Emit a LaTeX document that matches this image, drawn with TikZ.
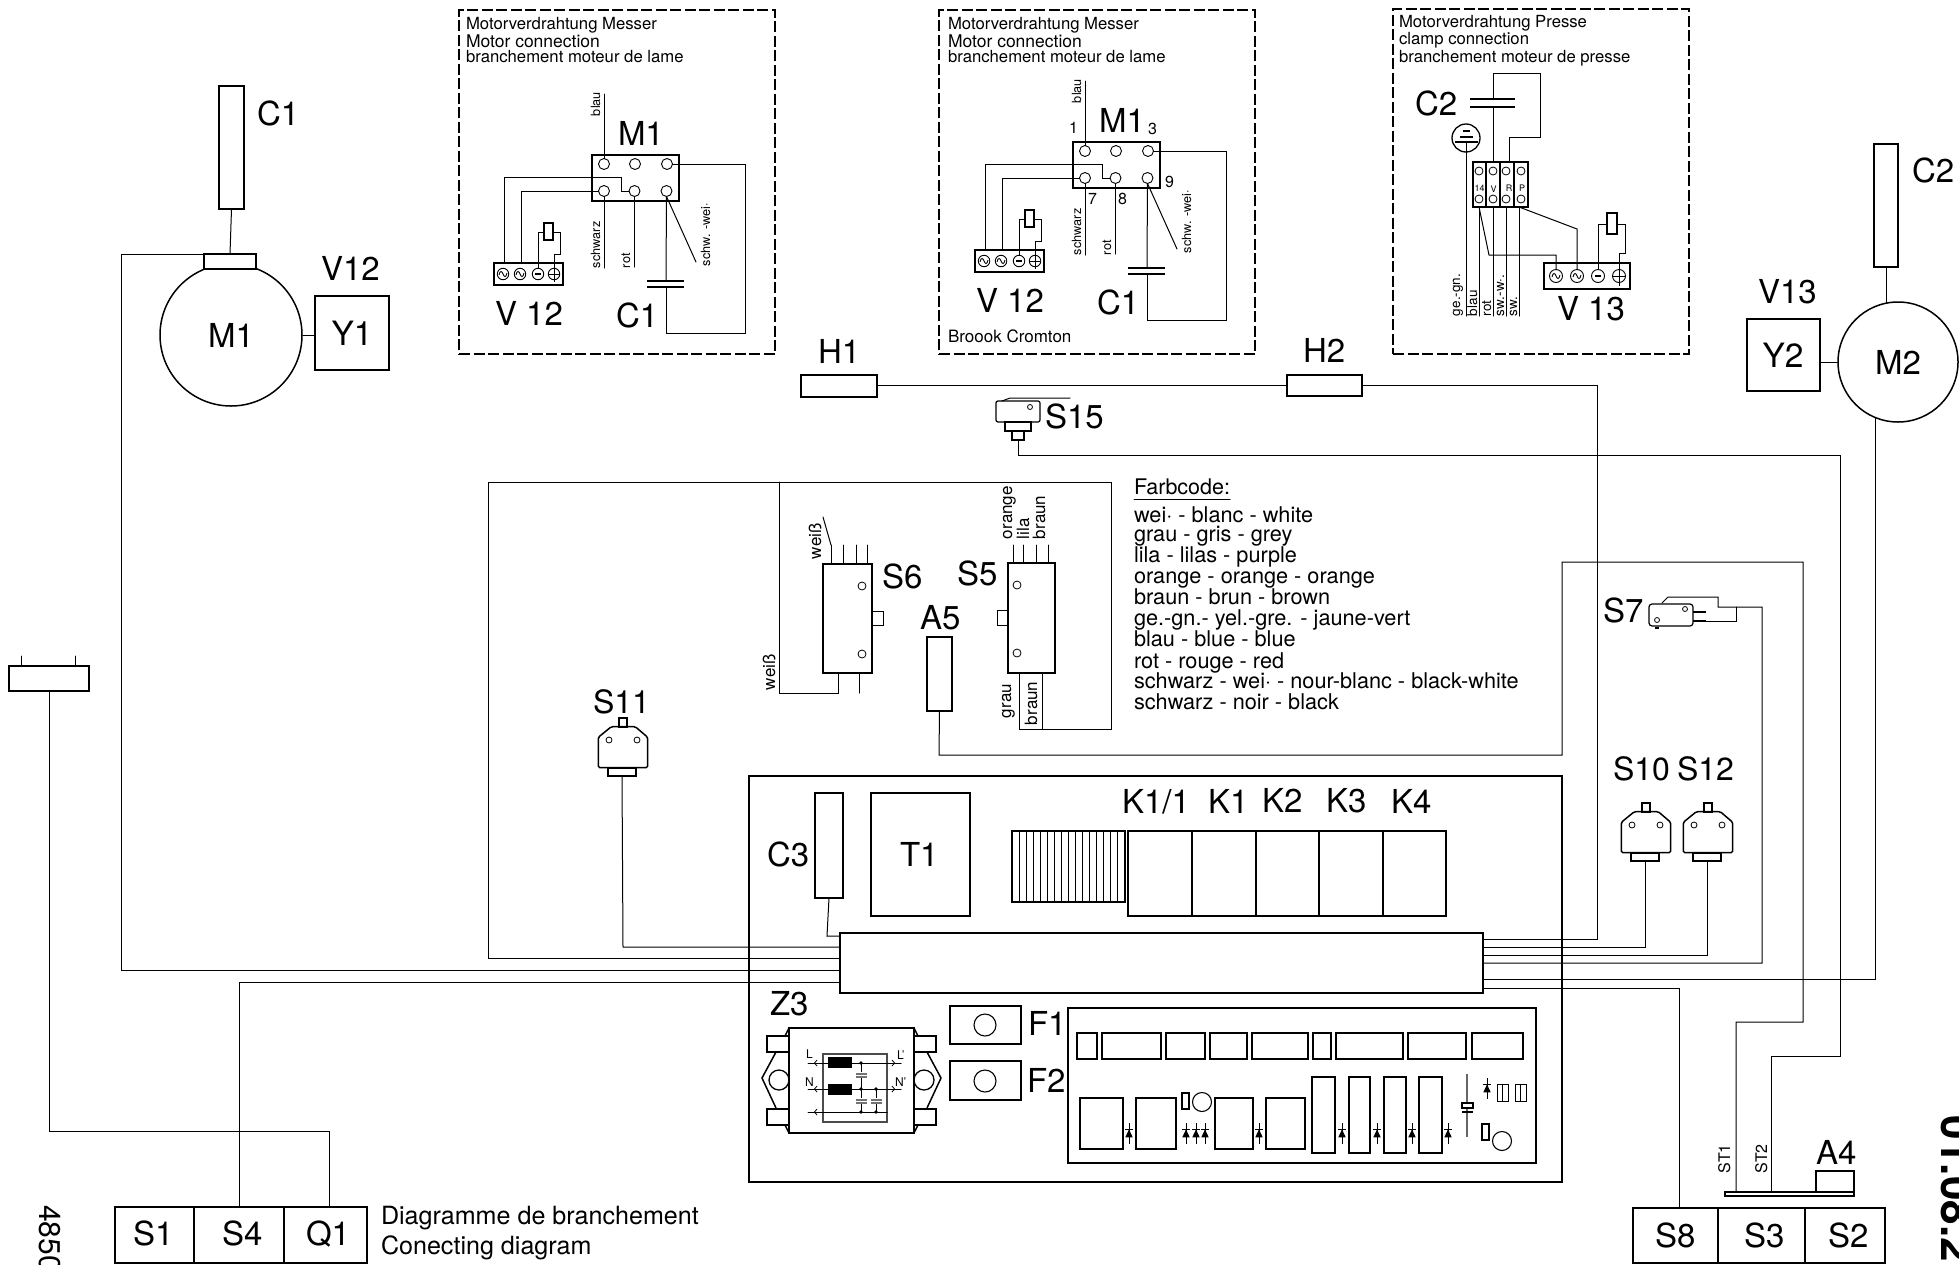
\documentclass[tikz,border=0pt]{standalone}
\usepackage{fontspec}
\setmainfont{TeX Gyre Heros}
\usetikzlibrary{calc}
\newcommand{\fsz}[1]{\fontsize{#1}{#1}\selectfont}
\newcommand{\rbox}[6][boxs]{%
  \pgfmathsetmacro\rbW{#5-#3}\pgfmathsetmacro\rbH{#6-#4}%
  \pgfmathsetmacro\rbX{(#3+#5)/2}\pgfmathsetmacro\rbY{(#4+#6)/2}%
  \node[#1,minimum width=\rbW pt,minimum height=\rbH pt] (#2) at (\rbX,\rbY) {};}
\newcommand{\diodeup}[3]{% x, ytop, ybottom
  \draw[thinw] (#1,#2) -- (#1,#3);
  \pgfmathsetmacro\dA{#2+(#3-#2)*0.3}\pgfmathsetmacro\dB{#2+(#3-#2)*0.68}%
  \fill (#1,\dA) -- (#1-3.7,\dB) -- (#1+3.7,\dB) -- cycle;
  \draw[thinw] (#1-3.7,\dA) -- (#1+3.7,\dA);}
% limit switch in the coordinates of S10
\newcommand{\limitsw}[3]{%
  \begin{scope}[shift={(#2,#3)}]
    \rbox[boxt]{#1plunger}{1642}{803}{1650}{812}
    \draw[bline,rounded corners=1.5pt] (1634.3,811.7) -- (1658.3,811.7) -- (1670.7,822.3) -- (1670.7,852.7) -- (1621.3,852.7) -- (1621.3,822.3) -- cycle;
    \rbox[boxt]{#1bar}{1631}{853}{1659}{861}
    \node[smallc,minimum size=6pt] (#1a) at (1632,825) {};
    \node[smallc,minimum size=6pt] (#1b) at (1660,825) {};
  \end{scope}}
% motor wiring group in the coordinates of the first frame
\newcommand{\motorwire}[1]{%
  \rbox{#1box}{592}{155}{679}{201}
  \node[term] (#1t1) at (604,164) {};
  \node[term] (#1t2) at (635,164) {};
  \node[term] (#1t3) at (667,164) {};
  \node[term] (#1t4) at (604,191) {};
  \node[term] (#1t5) at (634.5,191) {};
  \node[term] (#1t6) at (666.5,191) {};
  \node[big] (#1lM) at (618,145) {M1};
  \coordinate (#1blauend) at (604,94);
  \draw[wire] (#1t1) -- (#1blauend);
  \node[rlab] (#1lblau) at (600,116) {blau};
  \draw[wire] (#1t5) -- (621,191) -- (621,177) -- (504,177) -- (504,263);
  \draw[wire] (#1t4) -- (521,191) -- (521,263);
  \rbox{#1v}{494}{263}{563}{285}
  \node[term,minimum size=11.5pt] (#1s1) at (503,274) {};
  \node[term,minimum size=11.5pt] (#1s2) at (520,274) {};
  \node[term,minimum size=11.5pt] (#1s3) at (538,274) {};
  \node[term,minimum size=11.5pt] (#1s4) at (554,274) {};
  \pic at (#1s1) {acsym};
  \pic at (#1s2) {acsym};
  \draw[bline] (535,274) -- (541,274);
  \draw[thinw] (549,274) -- (559,274) (554,269) -- (554,282);
  \rbox{#1rel}{544}{223}{553}{240}
  \draw[wire] (#1s3) -- (538,232) -- (#1rel.west |- 0,232);
  \draw[wire] (#1rel.east |- 0,232) -- (560,232) -- (560,254) -- (554,254) -- (#1s4);
  \coordinate (#1sw) at (604,268);
  \coordinate (#1rt) at (634.5,267);
  \draw[wire] (#1t4) -- (#1sw);
  \draw[wire] (#1t5) -- (#1rt);
  \node[rlab] (#1lsw) at (600,268) {schwarz};
  \node[rlab] (#1lrt) at (630,268) {rot};
  \coordinate (#1capa) at (666,281);
  \coordinate (#1capb) at (666,287);
  \draw[wire] (#1t6) -- (#1capa);
  \draw[bline] (647,281) -- (684,281) (647,287) -- (684,287);
  \draw[wire] (#1capb) -- (666,333) -- (745,333) -- (745,164) -- (#1t3);
  \coordinate (#1diag) at (696,262);
  \draw[wire] (#1t6.south) -- (#1diag);
  \node[rlab] (#1lsww) at (710,266) {schw. -wei·};
  \node[big] (#1lC) at (616,327) {C1};
  \node[big] (#1lV) at (495,325) {V 12};}
\tikzset{
  wire/.style={line width=1pt,line cap=round,line join=miter},
  thinw/.style={line width=0.8pt},
  bline/.style={line width=1.5pt},
  boxs/.style={draw,rectangle,line width=1.5pt,inner sep=0pt,outer sep=0pt},
  boxt/.style={draw,rectangle,line width=1.2pt,inner sep=0pt,outer sep=0pt},
  boxf/.style={boxs,fill=white},
  frameb/.style={draw,rectangle,line width=1.5pt,inner sep=0pt,outer sep=0pt,dash pattern=on 11pt off 3.5pt},
  term/.style={draw,circle,line width=0.9pt,inner sep=0pt,outer sep=0pt,minimum size=11pt},
  smallc/.style={draw,circle,line width=0.8pt,inner sep=0pt,outer sep=0pt},
  lab/.style={inner sep=0pt,outer sep=0pt,anchor=base west},
  big/.style={lab,font=\fsz{33}},
  head/.style={lab,font=\fsz{16.7}},
  rlab/.style={lab,rotate=90,font=\fsz{12.7}},
  rlabb/.style={lab,rotate=90,font=\fsz{17}},
  leg/.style={lab,font=\fsz{21.7}},
  acsym/.pic={\draw[line width=0.9pt] (-4,1) .. controls (-3,-4) and (-1,-3) .. (0,0) .. controls (1,3) and (3,4) .. (4,-1);},
}
\begin{document}
\begin{tikzpicture}[x=1pt,y=-1pt]
\useasboundingbox (0,0) rectangle (1959,1264);
% ---- frames and headers
\rbox[frameb]{frameA}{459}{10}{775}{354}
\rbox[frameb]{frameB}{939}{10}{1255}{354}
\rbox[frameb]{frameC}{1393}{9}{1689}{354}
\node[head] (hA1) at (466,29) {Motorverdrahtung Messer};
\node[head,font=\fsz{17.5}] (hA2) at (466,47) {Motor connection};
\node[head] (hA3) at (466,62) {branchement moteur de lame};
\node[head] (hB1) at (948,29) {Motorverdrahtung Messer};
\node[head,font=\fsz{17.5}] (hB2) at (948,47) {Motor connection};
\node[head] (hB3) at (948,62) {branchement moteur de lame};
\node[head] (hC1) at (1399,27) {Motorverdrahtung Presse};
\node[head] (hC2) at (1399,44) {clamp connection};
\node[head] (hC3) at (1399,62) {branchement moteur de presse};
\motorwire{a}
\begin{scope}[shift={(481,-13)}]
\motorwire{b}
\end{scope}
\node[lab,font=\fsz{16}] (n1) at (1069,133) {1};
\node[lab,font=\fsz{16}] (n3) at (1148,134) {3};
\node[lab,font=\fsz{16}] (n7) at (1088,204) {7};
\node[lab,font=\fsz{16}] (n8) at (1118,204) {8};
\node[lab,font=\fsz{16}] (n9) at (1165,187) {9};
\node[lab,font=\fsz{17}] (broook) at (948,342) {Broook Cromton};
% ---- clamp motor wiring
\node[big] (lC2top) at (1415,115) {C2};
\coordinate (c2a) at (1493,99);
\coordinate (c2b) at (1493,107);
\draw[bline] (1470,99) -- (1515,99) (1470,107) -- (1515,107);
\rbox{blk}{1473}{162}{1528}{207}
\draw[boxt] (1486,162) -- (1486,207) (1500,162) -- (1500,207) (1514,162) -- (1514,207);
\foreach \px [count=\i] in {1479,1493,1506,1521}{
  \node[smallc,minimum size=8pt] (bt\i) at (\px,171) {};
  \node[smallc,minimum size=8pt] (bb\i) at (\px,199) {};
}
\node[inner sep=0pt,font=\fsz{9}] (l14) at (1479.5,188) {14};
\node[inner sep=0pt,font=\fsz{9}] (lV) at (1493.5,189) {V};
\node[inner sep=0pt,font=\fsz{9}] (lR) at (1509,188) {R};
\node[inner sep=0pt,font=\fsz{9}] (lP) at (1522,188) {P};
\draw[wire] (c2a) -- (1493,73) -- (1540,73) -- (1540,137) -- (1509,137) -- (blk.north -| 1509,0);
\draw[wire] (c2b) -- (blk.north -| 1493,0);
\node[draw,circle,line width=1.3pt,minimum size=28pt,inner sep=0pt] (gnd) at (1466,138) {};
\draw[bline] (1463,131) -- (1470,131) (1460,137) -- (1473,137) (1455,142) -- (1478,142);
\coordinate (ge) at (1466,316);
\draw[wire] (1466,142) -- (ge);
\coordinate (ebl) at (1479,316);
\coordinate (ert) at (1493,316);
\coordinate (esw) at (1506,316);
\coordinate (esb) at (1519,316);
\draw[wire] (blk.south -| 1479,0) -- (ebl);
\draw[wire] (blk.south -| 1493,0) -- (ert);
\draw[wire] (blk.south -| 1506,0) -- (esw);
\draw[wire] (blk.south -| 1519,0) -- (esb);
\node[rlab,font=\fsz{13.5}] (lge) at (1460,316) {ge.-gn.};
\node[rlab,font=\fsz{13.5}] (lbl) at (1477,316) {blau};
\node[rlab,font=\fsz{13.5}] (lrt) at (1491,316) {rot};
\node[rlab,font=\fsz{13.5}] (lsww) at (1504,316) {sw.-w·.};
\node[rlab,font=\fsz{13.5}] (lsw) at (1517,316) {sw.};
\rbox{vc}{1544}{263}{1630}{289}
\node[term,minimum size=13pt] (vs1) at (1556,276) {};
\node[term,minimum size=13pt] (vs2) at (1577,276) {};
\node[term,minimum size=13pt] (vs3) at (1598,276) {};
\node[term,minimum size=13pt] (vs4) at (1619,276) {};
\pic at (vs1) {acsym};
\pic at (vs2) {acsym};
\draw[bline] (1595,276) -- (1601,276);
\draw[thinw] (1613,276) -- (1625,276) (1619,270) -- (1619,286);
\draw[wire] (blk.south -| 1479,0) -- (1489,255) -- (1556,255) -- (vs1);
\draw[wire] (blk.south -| 1519,0) -- (1577,229) -- (vs2);
\rbox{relc}{1607}{213}{1617}{234}
\draw[wire] (vs3) -- (1598,224) -- (relc.west |- 0,224);
\draw[wire] (relc.east |- 0,224) -- (1625,224) -- (1625,253) -- (1619,253) -- (vs4);
\node[big] (lV13) at (1557,320) {V 13};
% ---- left motor
\rbox{c1l}{219}{86}{244}{209}
\node[big] (lC1l) at (257,125) {C1};
\node[draw,circle,line width=1.5pt,minimum size=142pt,inner sep=0pt,font=\fsz{33}] (m1) at (231,335) {M1};
\rbox[boxf]{m1cap}{204}{254}{256}{269}
\draw[wire] (c1l.south) -- (m1cap.north);
\rbox{y1}{315}{296}{389}{370}
\node[inner sep=0pt,font=\fsz{33.5}] (ty1) at (y1) {Y1};
\draw[wire] (m1.east) -- (y1.west |- m1.east);
\node[big] (lV12l) at (321,280) {V12};
% ---- right motor
\rbox{c2r}{1874}{144}{1898}{267}
\node[big] (lC2r) at (1912,182) {C2};
\node[draw,circle,line width=1.5pt,minimum size=120pt,inner sep=0pt,font=\fsz{33}] (m2) at (1898,362) {M2};
\draw[wire] (c2r.south) -- (1886,303);
\rbox{y2}{1747}{319}{1820}{391}
\node[inner sep=0pt,font=\fsz{33.5}] (ty2) at (1783,355) {Y2};
\draw[wire] (y2.east |- m2.west) -- (m2.west);
\node[big] (lV13r) at (1758,303) {V13};
% ---- thermals H1, H2, S15
\rbox{h1}{801}{375}{877}{397}
\rbox{h2}{1287}{375}{1362}{396}
\node[big] (lH1) at (818,363) {H1};
\node[big] (lH2) at (1303,362) {H2};
\draw[wire] (h1.east |- 0,385) -- (h2.west |- 0,385);
\rbox[boxt,rounded corners=2pt]{s15}{996}{401}{1040}{422}
\draw[wire] (1002,401) -- (1010,398) -- (1070,398);
\node[smallc,minimum size=5pt] (s15c) at (1030,407) {};
\rbox[boxt]{s15a}{1005}{422}{1031}{431}
\rbox[boxt]{s15b}{1012}{431}{1024}{440}
\node[big] (lS15) at (1045,428) {S15};
% ---- panel
\rbox{panel}{749}{776}{1562}{1182}
\rbox{bus}{840}{933}{1483}{993}
\rbox{c3}{815}{793}{843}{898}
\rbox{t1}{871}{793}{970}{916}
\node[big] (lC3) at (767,866) {C3};
\node[big] (lT1) at (900,866) {T1};
\rbox{hatch}{1012}{831}{1125}{902}
\foreach \k in {1,...,15}{\draw[wire] (1012+7*\k,831) -- (1012+7*\k,902);}
\rbox{k11}{1128}{831}{1192}{916}
\rbox{k1}{1192}{831}{1256}{916}
\rbox{k2}{1256}{831}{1319}{916}
\rbox{k3}{1319}{831}{1383}{916}
\rbox{k4}{1383}{831}{1446}{916}
\node[big] (lk11) at (1122,813) {K1/1};
\node[big] (lk1) at (1208,813) {K1};
\node[big] (lk2) at (1262,812) {K2};
\node[big] (lk3) at (1326,812) {K3};
\node[big] (lk4) at (1391,813) {K4};
% ---- Z3
\node[big] (lZ3) at (770,1015) {Z3};
\draw[bline] (776,1052) -- (762,1078) -- (776,1108) (785,1036) -- (789,1028) (785,1125) -- (789,1133);
\draw[bline] (927,1052) -- (941,1078) -- (927,1108) (918,1036) -- (914,1028) (918,1125) -- (914,1133);
\node[draw,circle,line width=1.3pt,minimum size=20pt,inner sep=0pt] (zc1) at (779,1080) {};
\node[draw,circle,line width=1.3pt,minimum size=20pt,inner sep=0pt] (zc2) at (924,1080) {};
\rbox[boxf]{z3}{789}{1028}{914}{1133}
\rbox[boxf]{ze1}{767}{1036}{789}{1052}
\rbox[boxf]{ze2}{767}{1109}{789}{1125}
\rbox[boxf]{ze3}{914}{1036}{936}{1052}
\rbox[boxf]{ze4}{914}{1109}{936}{1125}
\rbox[boxt,draw=black!70]{zin}{823}{1054}{887}{1122}
\coordinate (zL1) at (808,1063); \coordinate (zL2) at (901,1063);
\coordinate (zN1) at (808,1089); \coordinate (zN2) at (901,1089);
\coordinate (zE1) at (808,1112);
\draw[wire] (zL1) -- (zL2);
\draw[wire] (zN1) -- (zN2);
\draw[wire] (zE1) -- (zin.east |- zE1);
\rbox[boxf,fill=black]{zi1}{829}{1058}{851}{1067}
\rbox[boxf,fill=black]{zi2}{829}{1085}{851}{1094}
\draw[wire] (861,1063) -- (861,1112) (876,1089) -- (876,1112);
\foreach \dx/\dy in {861/1063,861/1089,861/1112,876/1089,876/1112}{\fill (\dx,\dy) circle (1.8pt);}
\begin{scope}[line width=1.6pt,black!55]
\draw[fill=white,draw=none] (855,1072) rectangle (868,1078);
\draw (856,1074) -- (867,1074) (856,1077) -- (867,1077);
\draw[fill=white,draw=none] (855,1098) rectangle (883,1104);
\draw (856,1100) -- (867,1100) (856,1103) -- (867,1103) (871,1100) -- (882,1100) (871,1103) -- (882,1103);
\end{scope}
\foreach \cy in {1063,1089,1112}{\draw[thinw] (817,\cy-3) -- (814.5,\cy) -- (817,\cy+3);}
\foreach \cy in {1063,1089}{\draw[thinw] (892,\cy-3) -- (894.5,\cy) -- (892,\cy+3);}
\node[lab,font=\fsz{12}] (zlL) at (806,1058) {L};
\node[lab,font=\fsz{12}] (zlLp) at (897,1059) {L'};
\node[lab,font=\fsz{12}] (zlN) at (805,1086) {N};
\node[lab,font=\fsz{12}] (zlNp) at (895,1086) {N'};
% ---- fuses
\rbox{f1}{950}{1006}{1021}{1044}
\rbox{f2}{950}{1061}{1021}{1100}
\node[smallc,line width=1.1pt,minimum size=22pt] (f1c) at (985,1025) {};
\node[smallc,line width=1.1pt,minimum size=22pt] (f2c) at (985,1081) {};
\node[big] (lF1) at (1028,1035) {F1};
\node[big] (lF2) at (1027,1092) {F2};
% ---- control board
\rbox{pcb}{1068}{1008}{1536}{1163}
\foreach \a/\b [count=\i] in {1077/1097,1102/1161,1166/1205,1210/1247,1252/1308,1313/1331,1336/1403,1408/1466,1472/1523}{\rbox{pa\i}{\a}{1033}{\b}{1059}}
\foreach \a/\b [count=\i] in {1080/1123,1136/1176,1215/1253,1266/1305}{\rbox{pb\i}{\a}{1098}{\b}{1149}}
\foreach \a/\b [count=\i] in {1312/1335,1349/1370,1384/1406,1419/1442}{\rbox{pc\i}{\a}{1077}{\b}{1153}}
\rbox{pd1}{1182}{1093}{1189}{1109}
\node[smallc,line width=1.1pt,minimum size=19pt] (pe1) at (1202,1102) {};
\rbox{pd2}{1482}{1124}{1489}{1140}
\node[smallc,line width=1.1pt,minimum size=19pt] (pe2) at (1502,1141) {};
\foreach \dx in {1129,1186,1196,1205,1259,1342,1377,1412,1448}{\diodeup{\dx}{1123}{1144}}
\diodeup{1487}{1078}{1099}
\draw[thinw,black!60,line width=1.2pt] (1467,1074) -- (1467,1137);
\rbox[boxf,line width=1.2pt]{pf}{1462}{1103}{1473}{1108}
\draw[thinw,line width=1.2pt] (1462,1112) -- (1473,1112);
\rbox[boxt,line width=0.7pt]{pg1}{1497}{1084}{1508}{1101}
\draw[line width=0.7pt] (1502.5,1084) -- (1502.5,1101);
\rbox[boxt,line width=0.7pt]{pg2}{1515}{1084}{1526}{1101}
\draw[line width=0.7pt] (1520.5,1084) -- (1520.5,1101);
% ---- S6, S5, A5
\rbox{s6}{823}{564}{872}{673}
\node[smallc,minimum size=8pt] (s6a) at (862,586) {};
\node[smallc,minimum size=8pt] (s6b) at (862,654) {};
\rbox[boxt,line width=0.9pt]{s6t}{872}{611}{883}{625}
\foreach \px in {831,843,856,867}{\draw[wire] (s6.north -| \px,0) -- (\px,545);}
\draw[wire] (831,545) -- (823,517);
\node[rlabb] (lw1) at (821,559) {weiß};
\node[rlabb] (lw2) at (775,690) {weiß};
\draw[wire] (s6.south -| 859,0) -- (859,693);
\rbox{s5}{1008}{563}{1055}{673}
\node[smallc,minimum size=8pt] (s5a) at (1017,585) {};
\node[smallc,minimum size=8pt] (s5b) at (1017,653) {};
\rbox[boxt,line width=0.9pt]{s5t}{997}{610}{1008}{625}
\foreach \px in {1013,1023,1036,1048}{\draw[wire] (s5.north -| \px,0) -- (\px,545);}
\node[rlabb] (lor) at (1012,539) {orange};
\node[rlabb] (lli) at (1029,539) {lila};
\node[rlabb] (lbr) at (1045,539) {braun};
\node[rlabb] (lgr) at (1011,718) {grau};
\node[rlabb] (lbr2) at (1037,725) {braun};
\node[big] (lS6) at (882,588) {S6};
\node[big] (lS5) at (957,585) {S5};
\node[big] (lA5) at (920,629) {A5};
\rbox{a5}{927}{637}{952}{711}
% ---- legend
\node[lab,font=\fsz{21.5}] (fc) at (1134,494) {Farbcode:};
\draw[wire] (fc.base west) ++(0,5) -- ++(96,0);
\node[leg] (g1) at (1134,522) {wei· - blanc - white};
\node[leg] (g2) at (1134,541) {grau - gris - grey};
\node[leg] (g3) at (1134,562) {lila - lilas - purple};
\node[leg] (g4) at (1134,583) {orange - orange - orange};
\node[leg] (g5) at (1134,604) {braun - brun - brown};
\node[leg] (g6) at (1134,625) {ge.-gn.- yel.-gre. - jaune-vert};
\node[leg] (g7) at (1134,646) {blau - blue - blue};
\node[leg] (g8) at (1134,668) {rot - rouge - red};
\node[leg] (g9) at (1134,688) {schwarz - wei· - nour-blanc - black-white};
\node[leg] (g10) at (1134,709) {schwarz - noir - black};
% ---- switches
\limitsw{s10}{0}{0}
\limitsw{s12}{62}{0}
\limitsw{s11}{-1023}{-85}
\node[big,font=\fsz{32}] (lS10) at (1613,780) {S10};
\node[big,font=\fsz{32}] (lS12) at (1677,780) {S12};
\node[big,font=\fsz{32}] (lS11) at (593,713) {S11};
\rbox[boxt,rounded corners=3pt]{s7}{1649}{604}{1693}{626}
\node[smallc,minimum size=5pt] (s7a) at (1685,609) {};
\node[smallc,minimum size=5pt] (s7b) at (1657,620) {};
\fill (1655,627) rectangle (1659,628.5);
\draw[bline] (s7.east |- 0,612) -- (1706,612);
\draw[bline] (s7.east |- 0,621) -- (1706,621);
\draw[wire] (1706,621) -- (1736,621) -- (1736,607);
\node[big] (lS7) at (1603,622) {S7};
% ---- wiring to the bus
\draw[wire] (m1cap.north west) -- (121,254) -- (121,970) -- (bus.west |- 0,970);
\draw[wire] (c3.south) -- (827,936) -- (bus.west |- 0,936);
\draw[wire] (s11bar.south) -- (623,947) -- (bus.west |- 0,947);
\draw[wire] (s6.south -| 838,0) -- (838,693) -- (779,693) -- (779,482);
\draw[wire] (bus.west |- 0,958) -- (488,958) -- (488,482) -- (1111,482) -- (1111,729) -- (1019,729) -- (s5.south -| 1019,0);
\draw[wire] (s5.south -| 1042,0) -- (1042,729);
\draw[wire] (bus.west |- 0,982) -- (239,982) -- (239,1207);
\draw[wire] (h2.east |- 0,385) -- (1597,385) -- (1597,939) -- (bus.east |- 0,939);
\draw[wire] (s10bar.south) -- (1645,947) -- (bus.east |- 0,947);
\draw[wire] (s12bar.south) -- (1707,955) -- (bus.east |- 0,955);
\draw[wire] (1662,603) -- (1668,597) -- (1718,597) -- (1718,607) -- (1762,607) -- (1762,963) -- (bus.east |- 0,963);
\draw[wire] (m2.south -| 1875,0) ++(0,-5) -- (1875,979) -- (bus.east |- 0,979);
\draw[wire] (bus.east |- 0,988) -- (1679,988) -- (1679,1208);
\draw[wire] (a5.south) -- (939,755) -- (1562,755) -- (1562,562) -- (1803,562) -- (1803,1022) -- (1736,1022) -- (1736,1192);
\draw[wire] (s15b.south) -- (1018,455) -- (1840,455) -- (1840,1056) -- (1771,1056) -- (1771,1192);
% ---- bottom left
\rbox{aux}{9}{666}{89}{691}
\draw[wire] (aux.north -| 21,0) -- (21,656);
\draw[wire] (aux.north -| 75,0) -- (75,656);
\draw[wire] (aux.south) -- (49,1131) -- (329,1131) -- (329,1207);
\rbox{bs1}{115}{1207}{194}{1263}
\rbox{bs4}{194}{1207}{284}{1263}
\rbox{bq1}{284}{1207}{367}{1263}
\node[big] (lS1) at (133,1245) {S1};
\node[big] (lS4) at (222,1245) {S4};
\node[big] (lQ1) at (306,1245) {Q1};
\node[lab,font=\fsz{25.1}] (dg1) at (381,1224) {Diagramme de branchement};
\node[lab,font=\fsz{25.1}] (dg2) at (381,1254) {Conecting diagram};
\node[lab,rotate=-90,font=\fsz{30}] (num) at (39,1205) {4850};
% ---- bottom right
\rbox{ss8}{1633}{1208}{1718}{1263}
\rbox{ss3}{1718}{1208}{1805}{1263}
\rbox{ss2}{1805}{1208}{1885}{1263}
\node[big] (lS8) at (1655,1247) {S8};
\node[big] (lS3) at (1744,1247) {S3};
\node[big] (lS2) at (1828,1247) {S2};
\rbox[boxf,line width=1.2pt]{strip}{1725}{1192}{1854}{1196}
\rbox[boxt]{a4}{1816}{1171}{1854}{1192}
\node[big] (lA4) at (1816,1164) {A4};
\node[rlab,font=\fsz{16}] (st1) at (1730,1173) {ST1};
\node[rlab,font=\fsz{16}] (st2) at (1767,1173) {ST2};
\node[lab,rotate=-90,font=\bfseries\fsz{44}] (date) at (1941,1115) {01.08.2};
\end{tikzpicture}
\end{document}
